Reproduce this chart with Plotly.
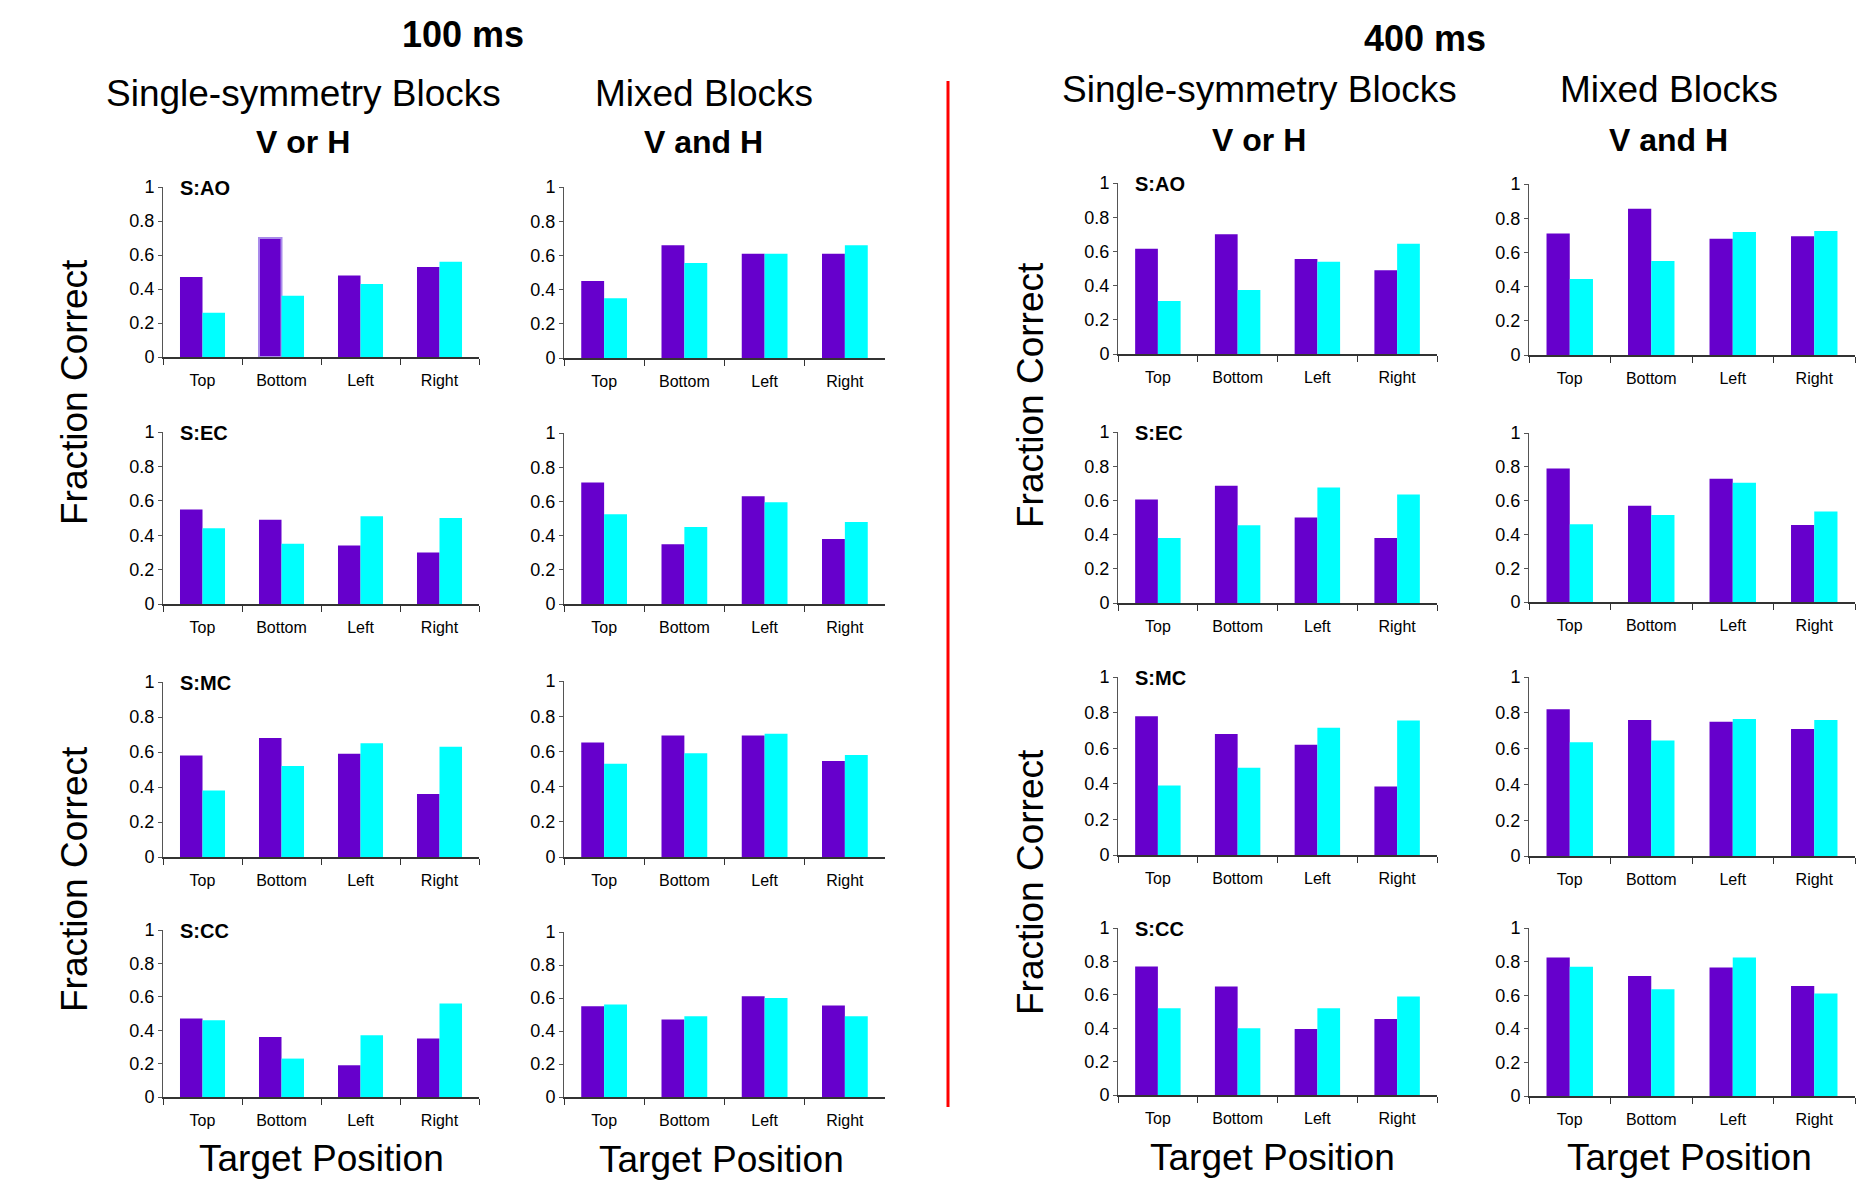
import plotly.graph_objects as go

# ---------------- data ----------------
positions = ["Top", "Bottom", "Left", "Right"]
subjects = ["S:AO", "S:EC", "S:MC", "S:CC"]

# 100 ms, single-symmetry blocks (purple = series A, cyan = series B)
ao_100_single_a = [0.47, 0.70, 0.48, 0.53]
ao_100_single_b = [0.26, 0.36, 0.43, 0.56]
ec_100_single_a = [0.55, 0.49, 0.34, 0.30]
ec_100_single_b = [0.44, 0.35, 0.51, 0.50]
mc_100_single_a = [0.58, 0.68, 0.59, 0.36]
mc_100_single_b = [0.38, 0.52, 0.65, 0.63]
cc_100_single_a = [0.47, 0.36, 0.19, 0.35]
cc_100_single_b = [0.46, 0.23, 0.37, 0.56]

# 100 ms, mixed blocks
ao_100_mixed_a = [0.45, 0.66, 0.61, 0.61]
ao_100_mixed_b = [0.35, 0.555, 0.61, 0.66]
ec_100_mixed_a = [0.71, 0.35, 0.63, 0.38]
ec_100_mixed_b = [0.525, 0.45, 0.595, 0.48]
mc_100_mixed_a = [0.65, 0.69, 0.69, 0.545]
mc_100_mixed_b = [0.53, 0.59, 0.70, 0.58]
cc_100_mixed_a = [0.55, 0.47, 0.61, 0.555]
cc_100_mixed_b = [0.56, 0.49, 0.60, 0.49]

# 400 ms, single-symmetry blocks
ao_400_single_a = [0.615, 0.70, 0.555, 0.49]
ao_400_single_b = [0.31, 0.375, 0.54, 0.645]
ec_400_single_a = [0.605, 0.685, 0.50, 0.38]
ec_400_single_b = [0.38, 0.455, 0.675, 0.635]
mc_400_single_a = [0.78, 0.68, 0.62, 0.385]
mc_400_single_b = [0.39, 0.49, 0.715, 0.755]
cc_400_single_a = [0.77, 0.65, 0.395, 0.455]
cc_400_single_b = [0.52, 0.40, 0.52, 0.59]

# 400 ms, mixed blocks
ao_400_mixed_a = [0.71, 0.855, 0.68, 0.695]
ao_400_mixed_b = [0.445, 0.55, 0.72, 0.725]
ec_400_mixed_a = [0.79, 0.57, 0.73, 0.455]
ec_400_mixed_b = [0.46, 0.515, 0.705, 0.535]
mc_400_mixed_a = [0.82, 0.76, 0.75, 0.71]
mc_400_mixed_b = [0.635, 0.645, 0.765, 0.76]
cc_400_mixed_a = [0.825, 0.715, 0.765, 0.655]
cc_400_mixed_b = [0.77, 0.635, 0.825, 0.61]

y_ticks = [0, 0.2, 0.4, 0.6, 0.8, 1]
y_tick_text = ["0", "0.2", "0.4", "0.6", "0.8", "1"]

durations = ["100 ms", "400 ms"]
block_titles = ["Single-symmetry Blocks", "Mixed Blocks"]
block_subtitles = ["V or H", "V and H"]
y_title = "Fraction Correct"
x_title = "Target Position"

columns = [
    [(ao_100_single_a, ao_100_single_b), (ec_100_single_a, ec_100_single_b),
     (mc_100_single_a, mc_100_single_b), (cc_100_single_a, cc_100_single_b)],
    [(ao_100_mixed_a, ao_100_mixed_b), (ec_100_mixed_a, ec_100_mixed_b),
     (mc_100_mixed_a, mc_100_mixed_b), (cc_100_mixed_a, cc_100_mixed_b)],
    [(ao_400_single_a, ao_400_single_b), (ec_400_single_a, ec_400_single_b),
     (mc_400_single_a, mc_400_single_b), (cc_400_single_a, cc_400_single_b)],
    [(ao_400_mixed_a, ao_400_mixed_b), (ec_400_mixed_a, ec_400_mixed_b),
     (mc_400_mixed_a, mc_400_mixed_b), (cc_400_mixed_a, cc_400_mixed_b)],
]

# ---------------- layout geometry (pixels) ----------------
W, H = 1876, 1183
col_x = [(163, 479), (564, 885), (1118, 1437), (1529, 1855)]
row_y = [
    [(187, 357), (432, 604), (682, 857), (930, 1097)],
    [(187, 358), (433, 604), (681, 857), (932, 1097)],
    [(183, 354), (432, 603), (677, 855), (928, 1095)],
    [(184, 355), (433, 602), (677, 856), (928, 1096)],
]

PURPLE = "#6600CC"
CYAN = "#00FFFF"
FONT = "Arial, Liberation Sans, sans-serif"

def px(x):
    return x / W

def py(y):
    return 1 - y / H

fig = go.Figure()
layout = {}
annotations = []

n = 0
for c in range(4):
    for r in range(4):
        n += 1
        xa = "x" if n == 1 else f"x{n}"
        ya = "y" if n == 1 else f"y{n}"
        a, b = columns[c][r]
        line_colors = ["rgba(0,0,0,0)"] * 4
        if c == 0 and r == 0:
            line_colors[1] = "#A98BEA"
        fig.add_trace(go.Bar(x=positions, y=a, xaxis=xa, yaxis=ya,
                             marker=dict(color=PURPLE,
                                         line=dict(color=line_colors, width=2)),
                             showlegend=False))
        fig.add_trace(go.Bar(x=positions, y=b, xaxis=xa, yaxis=ya,
                             marker=dict(color=CYAN, line=dict(width=0)),
                             showlegend=False))
        x0, x1 = col_x[c]
        y1p, y0p = row_y[c][r]
        kx = "xaxis" if n == 1 else f"xaxis{n}"
        ky = "yaxis" if n == 1 else f"yaxis{n}"
        layout[kx] = dict(domain=[px(x0), px(x1)], anchor=ya, type="category",
                          automargin=False,
                          showline=True, linecolor="#333333", linewidth=1.5,
                          ticks="outside", tickson="boundaries", ticklen=6,
                          tickcolor="#333333", tickwidth=1,
                          showgrid=False, zeroline=False,
                          ticklabelstandoff=8,
                          tickfont=dict(family=FONT, size=16, color="#000000"))
        layout[ky] = dict(domain=[py(y0p), py(y1p)], anchor=xa, range=[0, 1],
                          automargin=False,
                          tickvals=y_ticks, ticktext=y_tick_text,
                          showline=True, linecolor="#555555", linewidth=1,
                          ticks="outside", ticklen=4, tickcolor="#555555",
                          showgrid=False, zeroline=False,
                          tickfont=dict(family=FONT, size=18, color="#000000"))
        if c in (0, 2):
            annotations.append(dict(text=f"<b>{subjects[r]}</b>", xref="paper", yref="paper",
                                    x=px(x0 + 15), y=py(y1p + 1), xanchor="left", yanchor="middle",
                                    showarrow=False,
                                    font=dict(family=FONT, size=20, color="#000000")))

def text(t, x, y, size, bold=False, angle=0):
    annotations.append(dict(text=f"<b>{t}</b>" if bold else t, xref="paper", yref="paper",
                            x=px(x), y=py(y), xanchor="center", yanchor="middle",
                            showarrow=False, textangle=angle,
                            font=dict(family=FONT, size=size, color="#000000")))

# Big titles
text(durations[0], 463, 34, 36, bold=True)
text(durations[1], 1425, 39, 36, bold=True)
# Block titles
text(block_titles[0], 303, 93, 37)
text(block_titles[1], 704, 93, 37)
text(block_titles[0], 1259, 90, 37)
text(block_titles[1], 1669, 90, 37)
text(block_subtitles[0], 303, 142, 32, bold=True)
text(block_subtitles[1], 703, 142, 32, bold=True)
text(block_subtitles[0], 1259, 140, 32, bold=True)
text(block_subtitles[1], 1668, 140, 32, bold=True)
# Y titles
text(y_title, 74, 392, 37, angle=-90)
text(y_title, 74, 879, 37, angle=-90)
text(y_title, 1030, 395, 37, angle=-90)
text(y_title, 1030, 882, 37, angle=-90)
# X titles
text(x_title, 321, 1158, 37)
text(x_title, 721, 1159, 37)
text(x_title, 1272, 1157, 37)
text(x_title, 1689, 1157, 37)

fig.update_layout(
    width=W, height=H,
    margin=dict(l=0, r=0, t=0, b=0, pad=0),
    paper_bgcolor="white", plot_bgcolor="white",
    barmode="group", bargap=0.43, bargroupgap=0,
    showlegend=False,
    annotations=annotations,
    shapes=[dict(type="line", xref="paper", yref="paper",
                 x0=px(948), x1=px(948), y0=py(81), y1=py(1107),
                 line=dict(color="#FF0000", width=3))],
    **layout,
)

fig.write_html("out.html", config={"displayModeBar": False},
               post_script="document.body.style.margin='0';document.body.style.overflow='hidden';")
